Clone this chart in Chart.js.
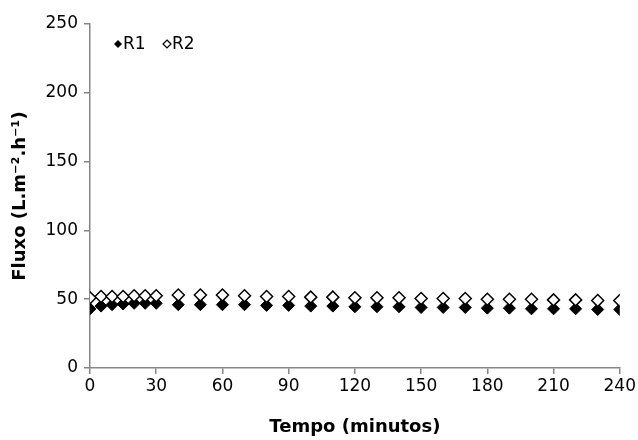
<!DOCTYPE html>
<html>
<head>
<meta charset="utf-8">
<script src="https://cdn.jsdelivr.net/npm/chart.js@4"></script>
<style>
  html, body { margin: 0; padding: 0; background: #fff; }
  #wrap { width: 638px; height: 440px; }
</style>
</head>
<body>
<div id="wrap"><canvas id="chart" width="638" height="440"></canvas></div>
<script>
// tempo (minutos)
const tempo = [0, 5, 10, 15, 20, 25, 30, 40, 50, 60, 70, 80, 90, 100, 110, 120,
  130, 140, 150, 160, 170, 180, 190, 200, 210, 220, 230, 240];
// fluxo R1 e R2
const r1 = [43, 45, 46, 46.5, 47, 47, 47, 46, 46, 46, 46, 45.5, 45.5, 45, 45, 44.5,
  44.5, 44.5, 44, 44, 44, 43.5, 43.5, 43, 43, 43, 42.5, 42.5];
const r2 = [51, 52, 52, 52, 52.5, 52.5, 52.5, 53, 53, 53, 52.5, 52, 52, 51.5, 51.5, 51,
  51, 51, 50.5, 50.5, 50.5, 50, 50, 50, 49.5, 49.5, 49, 49];
const xTicks = [0, 30, 60, 90, 120, 150, 180, 210, 240];
const yTicks = [0, 50, 100, 150, 200, 250];

const cinza = "#868686";
const fonte = "'DejaVu Sans', sans-serif";

const pts = (ys) => tempo.map((t, i) => ({ x: t, y: ys[i] }));

// legenda dentro da area do grafico
const legendaDentro = {
  id: "legendaDentro",
  afterDraw(chart) {
    const ctx = chart.ctx;
    const a = chart.chartArea;
    const y = a.top + 20;
    const itens = [
      { x: a.left + 28, txt: "R1", cheio: true },
      { x: a.left + 77, txt: "R2", cheio: false },
    ];
    ctx.save();
    ctx.font = "17px " + fonte;
    ctx.textBaseline = "middle";
    itens.forEach((it) => {
      ctx.beginPath();
      ctx.moveTo(it.x, y - 4);
      ctx.lineTo(it.x + 4, y);
      ctx.lineTo(it.x, y + 4);
      ctx.lineTo(it.x - 4, y);
      ctx.closePath();
      if (it.cheio) {
        ctx.fillStyle = "#000";
        ctx.fill();
      } else {
        ctx.fillStyle = "#fff";
        ctx.fill();
        ctx.lineWidth = 1.2;
        ctx.strokeStyle = "#000";
        ctx.stroke();
      }
      ctx.fillStyle = "#000";
      ctx.fillText(it.txt, it.x + 5, y + 1);
    });
    ctx.restore();
  },
};

const data = {
  datasets: [
    {
      label: "R2",
      data: pts(r2),
      pointStyle: "rectRot",
      pointRadius: 6,
      pointBackgroundColor: "#fff",
      pointBorderColor: "#000",
      pointBorderWidth: 1.5,
      showLine: false,
    },
    {
      label: "R1",
      data: pts(r1),
      pointStyle: "rectRot",
      pointRadius: 6,
      pointBackgroundColor: "#000",
      pointBorderColor: "#000",
      pointBorderWidth: 1,
      showLine: false,
    },
  ],
};

const config = {
  type: "scatter",
  data: data,
  plugins: [legendaDentro],
  options: {
    responsive: false,
    animation: false,
    layout: { padding: { left: 0, right: 16, top: 24, bottom: 2 } },
    plugins: {
      legend: { display: false },
      tooltip: { enabled: false },
    },
    scales: {
      x: {
        type: "linear",
        min: 0,
        max: 240,
        afterBuildTicks: (s) => { s.ticks = xTicks.map((v) => ({ value: v })); },
        afterFit: (s) => { s.height = 70; },
        grid: { drawOnChartArea: false, tickLength: 6, color: cinza, lineWidth: 1.5 },
        border: { color: cinza, width: 1.5 },
        ticks: { color: "#000", font: { family: fonte, size: 17 }, padding: 2, maxRotation: 0 },
        title: {
          display: true,
          text: "Tempo (minutos)",
          color: "#000",
          font: { family: fonte, size: 18, weight: "bold" },
          padding: { top: 10, bottom: 0 },
        },
      },
      y: {
        min: 0,
        max: 250,
        afterBuildTicks: (s) => { s.ticks = yTicks.map((v) => ({ value: v })); },
        afterFit: (s) => { s.width = 90; },
        grid: { drawOnChartArea: false, tickLength: 6, color: cinza, lineWidth: 1.5 },
        border: { color: cinza, width: 1.5 },
        ticks: { color: "#000", font: { family: fonte, size: 17 }, padding: 6 },
        title: {
          display: true,
          text: "Fluxo (L.m\u207B\u00B2.h\u207B\u00B9)",
          color: "#000",
          font: { family: fonte, size: 18, weight: "bold" },
          padding: { top: 10, bottom: 0 },
        },
      },
    },
  },
};

const chart = new Chart(document.getElementById("chart"), config);
</script>
</body>
</html>
